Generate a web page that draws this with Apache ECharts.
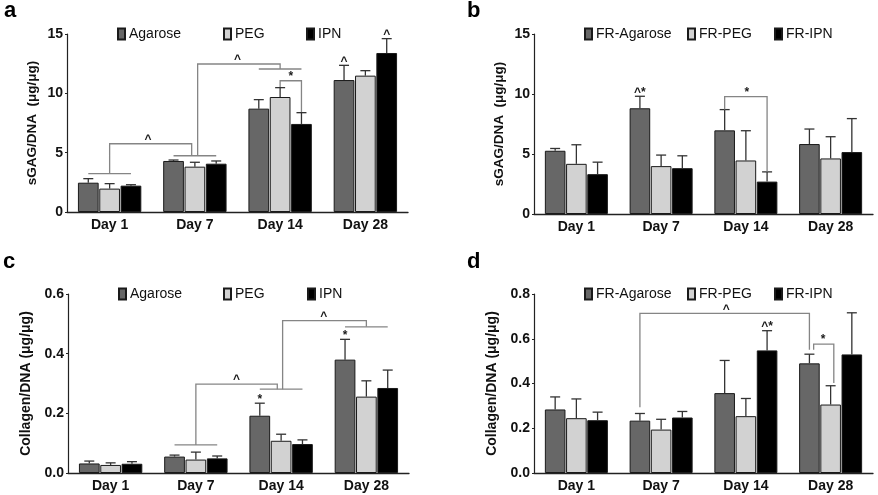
<!DOCTYPE html>
<html>
<head>
<meta charset="utf-8">
<script src="https://cdn.jsdelivr.net/npm/echarts@6/dist/echarts.min.js"></script>
<style>html,body{margin:0;padding:0;background:#fff}#chart{width:878px;height:495px}</style>
</head>
<body>
<div id="chart"></div>
<script>
// ---------------- DATA ----------------
const categories = ['Day 1', 'Day 7', 'Day 14', 'Day 28'];

const namesPlain = ['Agarose', 'PEG', 'IPN'];
const namesFR = ['FR-Agarose', 'FR-PEG', 'FR-IPN'];

// Panel a: sGAG/DNA (µg/µg)
const sgagAgarose = [2.47, 4.30, 8.71, 11.12];
const sgagAgaroseSD = [0.34, 0.08, 0.76, 1.24];
const sgagPEG = [1.97, 3.82, 9.69, 11.49];
const sgagPEGSD = [0.42, 0.37, 0.79, 0.42];
const sgagIPN = [2.22, 4.07, 7.42, 13.40];
const sgagIPNSD = [0.08, 0.23, 0.95, 1.21];

// Panel b: sGAG/DNA, FR
const sgagFRAgarose = [5.27, 8.81, 6.97, 5.83];
const sgagFRAgaroseSD = [0.19, 1.00, 1.73, 1.25];
const sgagFRPEG = [4.18, 3.99, 4.46, 4.63];
const sgagFRPEGSD = [1.59, 0.92, 2.48, 1.81];
const sgagFRIPN = [3.32, 3.82, 2.70, 5.16];
const sgagFRIPNSD = [1.00, 1.03, 0.81, 2.79];

// Panel c: Collagen/DNA
const colAgarose = [0.032, 0.055, 0.192, 0.380];
const colAgaroseSD = [0.008, 0.005, 0.042, 0.068];
const colPEG = [0.027, 0.045, 0.108, 0.256];
const colPEGSD = [0.007, 0.025, 0.022, 0.053];
const colIPN = [0.031, 0.049, 0.097, 0.285];
const colIPNSD = [0.007, 0.008, 0.014, 0.060];

// Panel d: Collagen/DNA, FR
const colFRAgarose = [0.284, 0.234, 0.357, 0.490];
const colFRAgaroseSD = [0.056, 0.032, 0.146, 0.041];
const colFRPEG = [0.245, 0.194, 0.254, 0.306];
const colFRPEGSD = [0.086, 0.046, 0.079, 0.084];
const colFRIPN = [0.236, 0.248, 0.548, 0.530];
const colFRIPNSD = [0.036, 0.027, 0.088, 0.186];

// Y axis ranges / ticks
const yMaxSGAG = 15, yStepSGAG = 5;
const yMaxColC = 0.6, yMaxColD = 0.8, yStepCol = 0.2;

// Significance brackets: points as [categoryIndex, barSlot, value]
const bracketsA = [
  [[0, -1, 3.23], [0, 1, 3.23]],
  [[0, 0, 3.23], [0, 0, 5.75], [1, -0.15, 5.75], [1, -0.15, 4.74]],
  [[1, -1, 4.74], [1, 1, 4.74]],
  [[1, 0.13, 4.74], [1, 0.13, 12.47], [2, 0, 12.47], [2, 0, 12.05]],
  [[2, -1, 12.05], [2, 1, 12.05]],
  [[2, 0, 10.53], [2, 0, 11.06], [2, 1, 11.06], [2, 1, 8.42]]
];
const marksA = [[0, 1.8, 5.75, '^'], [1, 2.0, 12.47, '^'], [2, 0.5, 11.06, '*'], [3, -1, 12.36, '^'], [3, 1, 14.61, '^']];

const bracketsB = [
  [[2, -1, 8.70], [2, -1, 9.78], [2, 1, 9.78], [2, 1, 3.54]]
];
const marksB = [[1, -1, 9.81, '^*'], [2, 0.05, 9.78, '*']];

const bracketsC = [
  [[1, -1, 0.094], [1, 1, 0.094]],
  [[1, 0, 0.094], [1, 0, 0.298], [2, -0.18, 0.298], [2, -0.18, 0.281]],
  [[2, -1, 0.281], [2, 1, 0.281]],
  [[2, 0.07, 0.281], [2, 0.07, 0.511], [3, 0, 0.511], [3, 0, 0.490]],
  [[3, -1, 0.490], [3, 1, 0.490]]
];
const marksC = [[1, 1.9, 0.298, '^'], [2, 2.0, 0.511, '^'], [2, -1, 0.234, '*'], [3, -1, 0.448, '*']];

const bracketsD = [
  [[1, -1, 0.294], [1, -1, 0.713], [3, -1, 0.713], [3, -1, 0.551]],
  [[3, -0.8, 0.551], [3, -0.8, 0.576], [3, 0.15, 0.576], [3, 0.15, 0.402]]
];
const marksD = [[2, -0.92, 0.713, '^'], [3, -0.35, 0.576, '*'], [2, 1, 0.636, '^*']];

// ---------------- STYLE ----------------
const FONT = 'Liberation Sans, Arial, Helvetica, sans-serif';
const COLORS = ['#676767', '#d2d2d2', '#000000'];
const BAR_FRAC = 0.243;
const GAP_FRAC = 0.03;

const panels = [
  { grid: { left: 67, top: 34, width: 341, height: 178 }, max: yMaxSGAG, step: yStepSGAG, dec: 0,
    name: 'sGAG/DNA  (μg/μg)', nameSize: 13.5, nameGap: 28, names: namesPlain,
    means: [sgagAgarose, sgagPEG, sgagIPN], sds: [sgagAgaroseSD, sgagPEGSD, sgagIPNSD],
    brackets: bracketsA, marks: marksA, legendLeft: [117, 223, 306], legendTop: 27 },
  { grid: { left: 534, top: 34, width: 339, height: 180 }, max: yMaxSGAG, step: yStepSGAG, dec: 0,
    name: 'sGAG/DNA  (μg/μg)', nameSize: 13.5, nameGap: 28, names: namesFR,
    means: [sgagFRAgarose, sgagFRPEG, sgagFRIPN], sds: [sgagFRAgaroseSD, sgagFRPEGSD, sgagFRIPNSD],
    brackets: bracketsB, marks: marksB, legendLeft: [584, 687, 774], legendTop: 27 },
  { grid: { left: 68, top: 294, width: 341, height: 179 }, max: yMaxColC, step: yStepCol, dec: 1,
    name: 'Collagen/DNA (μg/μg)', nameSize: 14, nameGap: 35, names: namesPlain,
    means: [colAgarose, colPEG, colIPN], sds: [colAgaroseSD, colPEGSD, colIPNSD],
    brackets: bracketsC, marks: marksC, legendLeft: [118, 223, 307], legendTop: 287 },
  { grid: { left: 534, top: 294, width: 339, height: 179 }, max: yMaxColD, step: yStepCol, dec: 1,
    name: 'Collagen/DNA (μg/μg)', nameSize: 14, nameGap: 35, names: namesFR,
    means: [colFRAgarose, colFRPEG, colFRIPN], sds: [colFRAgaroseSD, colFRPEGSD, colFRIPNSD],
    brackets: bracketsD, marks: marksD, legendLeft: [584, 687, 774], legendTop: 287 }
];

const grids = [], xAxes = [], yAxes = [], series = [], legends = [];

function errorRender(params, api) {
  const cat = api.value(0), mean = api.value(1), top = api.value(2), s = api.value(3);
  const band = api.size([1, 0])[0];
  const pitch = band * BAR_FRAC * (1 + GAP_FRAC);
  const cx = api.coord([cat, 0])[0] + (s - 1) * pitch;
  const y0 = api.coord([cat, mean])[1];
  const y1 = api.coord([cat, top])[1];
  const st = { stroke: '#333', lineWidth: 1.3 };
  return { type: 'group', children: [
    { type: 'line', shape: { x1: cx, y1: y0, x2: cx, y2: y1 }, style: st },
    { type: 'line', shape: { x1: cx - 5, y1: y1, x2: cx + 5, y2: y1 }, style: st }
  ] };
}

function makeBracketRender(paths, marks) {
  return function (params, api) {
    const band = api.size([1, 0])[0];
    const pitch = band * BAR_FRAC * (1 + GAP_FRAC);
    const pt = (c, slot, v) => { const p = api.coord([c, v]); return [p[0] + slot * pitch, p[1]]; };
    const children = paths.map(path => ({
      type: 'polyline', shape: { points: path.map(q => pt(q[0], q[1], q[2])) },
      style: { stroke: '#858585', fill: 'none', lineWidth: 1.3 }
    }));
    marks.forEach(m => {
      const p = pt(m[0], m[1], m[2]);
      children.push({ type: 'text', x: p[0], y: p[1] - 4,
        style: { text: m[3], font: 'bold 12px ' + FONT, fill: '#1a1a1a', align: 'center', verticalAlign: 'middle' } });
    });
    return { type: 'group', children };
  };
}

panels.forEach((p, i) => {
  grids.push(Object.assign({ containLabel: false, outerBoundsMode: 'none' }, p.grid));
  xAxes.push({
    type: 'category', gridIndex: i, data: categories,
    axisLine: { lineStyle: { color: '#222', width: 1.3 } },
    axisTick: { show: false },
    axisLabel: { color: '#111', fontFamily: FONT, fontWeight: 'bold', fontSize: 14, margin: 6 }
  });
  yAxes.push({
    type: 'value', gridIndex: i, min: 0, max: p.max, interval: p.step,
    name: p.name, nameLocation: 'middle', nameGap: p.nameGap,
    nameTextStyle: { color: '#111', fontFamily: FONT, fontWeight: 'bold', fontSize: p.nameSize },
    axisLine: { show: true, lineStyle: { color: '#222', width: 1.2 } },
    axisTick: { show: true, length: 2, lineStyle: { color: '#222' } },
    splitLine: { show: false },
    axisLabel: { color: '#111', fontFamily: FONT, fontWeight: 'bold', fontSize: 14, margin: 4,
      formatter: v => v.toFixed(p.dec) }
  });
  p.names.forEach((nm, s) => {
    series.push({
      type: 'bar', name: nm, xAxisIndex: i, yAxisIndex: i, data: p.means[s],
      barWidth: (BAR_FRAC * 100) + '%', barGap: (GAP_FRAC * 100) + '%',
      itemStyle: { color: COLORS[s], borderColor: '#1a1a1a', borderWidth: 1 },
      emphasis: { disabled: true }, animation: false
    });
    legends.push({
      data: [nm], left: p.legendLeft[s], top: p.legendTop, padding: 0,
      icon: 'rect', itemWidth: 7, itemHeight: 11, itemGap: 0, selectedMode: false,
      textStyle: { color: '#111', fontFamily: FONT, fontSize: 14, padding: [0, 0, 0, -1] }
    });
  });
  const errData = [];
  p.means.forEach((arr, s) => arr.forEach((m, c) => errData.push([c, m, m + p.sds[s][c], s])));
  series.push({ type: 'custom', xAxisIndex: i, yAxisIndex: i, data: errData, renderItem: errorRender,
    z: 3, silent: true, animation: false, clip: false, encode: { x: 0, y: [1, 2] } });
  series.push({ type: 'custom', xAxisIndex: i, yAxisIndex: i, data: [[0, 0]],
    renderItem: makeBracketRender(p.brackets, p.marks), z: 4, silent: true, animation: false, clip: false });
});

const chart = echarts.init(document.getElementById('chart'), null, { renderer: 'canvas' });
chart.setOption({
  backgroundColor: '#fff',
  animation: false,
  grid: grids, xAxis: xAxes, yAxis: yAxes, series, legend: legends,
  graphic: [
    { type: 'text', left: 4, top: 0, style: { text: 'a', font: 'bold 22px ' + FONT, fill: '#000' } },
    { type: 'text', left: 467, top: 0, style: { text: 'b', font: 'bold 22px ' + FONT, fill: '#000' } },
    { type: 'text', left: 3, top: 251, style: { text: 'c', font: 'bold 22px ' + FONT, fill: '#000' } },
    { type: 'text', left: 467, top: 251, style: { text: 'd', font: 'bold 22px ' + FONT, fill: '#000' } }
  ]
});
</script>
</body>
</html>
